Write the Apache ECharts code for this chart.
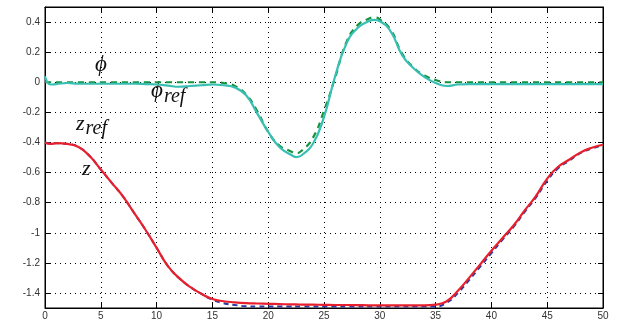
<!DOCTYPE html>
<html>
<head>
<meta charset="utf-8">
<script src="https://cdn.jsdelivr.net/npm/echarts@6/dist/echarts.min.js"></script>
<style>
  html, body { margin: 0; padding: 0; background: #fff; }
</style>
</head>
<body>
<div id="main" style="width: 621px;height:323px;"></div>
<script>
// time axis samples
var T = [0, 0.5, 1, 2, 3, 4, 5, 6, 7, 8, 9, 10, 11, 12, 13, 14, 15, 16, 17, 18, 19, 20,
  21, 22, 22.5, 23, 24, 25, 26, 27, 28, 29, 29.5, 30, 31, 32, 33, 34, 35, 36, 37, 38, 39, 40,
  41, 42, 43, 44, 45, 46, 47, 48, 49, 50];

var phiRef = [0, 0, 0, 0, 0, 0, 0, 0, 0, 0, 0, 0, 0, 0, 0, 0, 0, -0.005, -0.025, -0.08, -0.19, -0.33,
  -0.42, -0.458, -0.472, -0.455, -0.37, -0.19, 0.03, 0.265, 0.378, 0.422, 0.43, 0.418, 0.345, 0.19, 0.10, 0.045, 0.015, 0, 0, 0, 0, 0,
  0, 0, 0, 0, 0, 0, 0, 0, 0, 0];

var phi = [0.04, -0.015, -0.012, -0.005, -0.01, -0.01, -0.01, -0.01, -0.01, -0.01, -0.012, -0.015, -0.022, -0.03, -0.025, -0.02, -0.015, -0.02, -0.035, -0.085, -0.205, -0.33,
  -0.43, -0.48, -0.497, -0.485, -0.41, -0.23, 0.04, 0.255, 0.36, 0.405, 0.414, 0.405, 0.335, 0.18, 0.095, 0.035, -0.005, -0.025, -0.015, -0.012, -0.012, -0.012,
  -0.012, -0.012, -0.012, -0.012, -0.012, -0.012, -0.012, -0.012, -0.012, -0.012];

var zRef = [-0.40, -0.405, -0.405, -0.41, -0.43, -0.49, -0.58, -0.67, -0.76, -0.87, -0.98, -1.10, -1.22, -1.30, -1.36, -1.405, -1.445, -1.468, -1.48, -1.488, -1.49, -1.49,
  -1.49, -1.49, -1.49, -1.49, -1.49, -1.49, -1.49, -1.49, -1.49, -1.49, -1.49, -1.49, -1.49, -1.49, -1.49, -1.49, -1.49, -1.465, -1.40, -1.315, -1.225, -1.135,
  -1.045, -0.96, -0.86, -0.765, -0.655, -0.57, -0.52, -0.47, -0.44, -0.42];

var z = [-0.40, -0.41, -0.405, -0.41, -0.43, -0.49, -0.58, -0.67, -0.76, -0.87, -0.98, -1.10, -1.22, -1.30, -1.36, -1.405, -1.44, -1.455, -1.462, -1.467, -1.47, -1.472,
  -1.474, -1.476, -1.4765, -1.477, -1.478, -1.479, -1.48, -1.48, -1.481, -1.482, -1.482, -1.482, -1.483, -1.483, -1.483, -1.483, -1.478, -1.455, -1.385, -1.30, -1.21, -1.12,
  -1.035, -0.95, -0.85, -0.755, -0.64, -0.56, -0.513, -0.466, -0.435, -0.415];

var yTicks = [-1.4, -1.2, -1, -0.8, -0.6, -0.4, -0.2, 0, 0.2, 0.4];

function pairs(ys) {
  return T.map(function (t, i) { return [t, ys[i]]; });
}

var chartDom = document.getElementById('main');
var myChart = echarts.init(chartDom);

var dotted = { color: '#000', width: 1, type: [1, 4] };
var tickIn = { show: true, inside: true, length: 5, lineStyle: { color: '#000' } };
var serif = 'Liberation Serif';

var option = {
  animation: false,
  backgroundColor: '#fff',
  grid: { left: 45, right: 18, top: 7, bottom: 15, show: true, borderColor: '#000', borderWidth: 1 },
  xAxis: [
    {
      type: 'value', min: 0, max: 50, interval: 5, position: 'bottom',
      axisLine: { show: true, onZero: false, lineStyle: { color: '#000' } },
      axisTick: tickIn,
      axisLabel: { color: '#333', fontSize: 10, margin: 3, fontFamily: 'Liberation Sans' },
      splitLine: { show: true, lineStyle: dotted }
    },
    {
      type: 'value', min: 0, max: 50, interval: 5, position: 'top',
      axisLine: { show: true, onZero: false, lineStyle: { color: '#000' } },
      axisTick: tickIn, axisLabel: { show: false }, splitLine: { show: false }
    }
  ],
  yAxis: [
    {
      type: 'value', min: -1.5, max: 0.5, position: 'left',
      axisLine: { show: true, onZero: false, lineStyle: { color: '#000' } },
      axisTick: { show: true, inside: true, length: 5, lineStyle: { color: '#000' }, customValues: yTicks },
      axisLabel: { color: '#333', fontSize: 10, margin: 5, fontFamily: 'Liberation Sans', customValues: yTicks },
      splitLine: { show: true, lineStyle: dotted }
    },
    {
      type: 'value', min: -1.5, max: 0.5, position: 'right',
      axisLine: { show: true, onZero: false, lineStyle: { color: '#000' } },
      axisTick: { show: true, inside: true, length: 5, lineStyle: { color: '#000' }, customValues: yTicks },
      axisLabel: { show: false, customValues: yTicks }, splitLine: { show: false }
    }
  ],
  series: [
    {
      name: 'z_ref', type: 'line', smooth: 0.5, symbol: 'none', data: pairs(zRef),
      lineStyle: { color: '#2b3a9e', width: 2, type: [5, 4] }
    },
    {
      name: 'z', type: 'line', smooth: 0.5, symbol: 'none', data: pairs(z),
      lineStyle: { color: '#e8202d', width: 2.2 }
    },
    {
      name: 'phi_ref', type: 'line', smooth: 0.5, symbol: 'none', data: pairs(phiRef),
      lineStyle: { color: '#17923f', width: 2.2, type: [6, 5] }
    },
    {
      name: 'phi', type: 'line', smooth: 0.5, symbol: 'none', data: pairs(phi),
      lineStyle: { color: '#37bfb3', width: 2.2 }
    }
  ],
  graphic: [
    { type: 'text', left: 95, top: 53, style: { text: 'ϕ', fontFamily: serif, fontStyle: 'italic', fontSize: 23, fill: '#111' } },
    { type: 'text', left: 151, top: 79, style: {
      text: '{a|ϕ}{b|ref}', fill: '#111',
      rich: {
        a: { fontFamily: serif, fontStyle: 'italic', fontSize: 23 },
        b: { fontFamily: serif, fontStyle: 'italic', fontSize: 20, padding: [12, 0, 0, 1] }
      }
    } },
    { type: 'text', left: 76, top: 113, style: {
      text: '{a|z}{b|ref}', fill: '#111',
      rich: {
        a: { fontFamily: serif, fontStyle: 'italic', fontSize: 22 },
        b: { fontFamily: serif, fontStyle: 'italic', fontSize: 20, padding: [10, 0, 0, 1] }
      }
    } },
    { type: 'text', left: 82, top: 158, style: { text: 'z', fontFamily: serif, fontStyle: 'italic', fontSize: 22, fill: '#111' } }
  ]
};

option && myChart.setOption(option);
</script>
</body>
</html>
